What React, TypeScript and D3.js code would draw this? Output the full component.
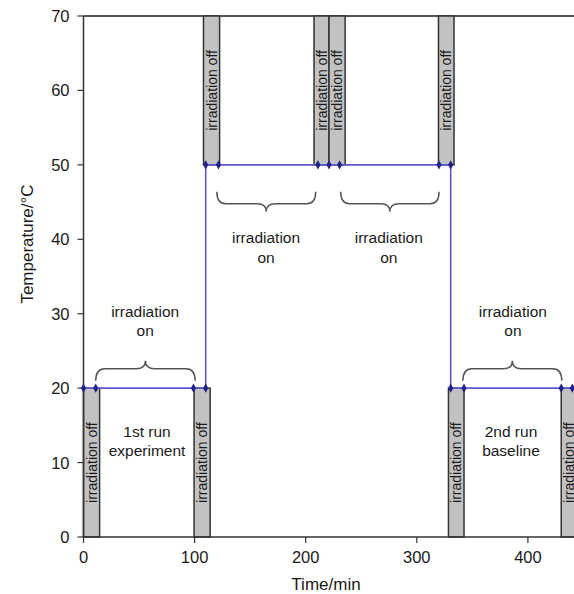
import React from 'react';
import * as d3 from 'd3';

// temperature profile (time in min, temperature in °C)
const times = [0, 11, 99, 110, 110, 121.5, 211, 221, 230.5, 320, 330.5, 330.5, 342.5, 430, 440];
const temps = [20, 20, 20, 20, 50, 50, 50, 50, 50, 50, 50, 20, 20, 20, 20];

// "irradiation off" periods, [start, end] in min
const offLow = [[0, 14.5], [99.5, 114], [328.5, 342.5], [430, 444.5]];
const offHigh = [[108, 122.5], [207.5, 221], [221, 235.5], [319.5, 333.5]];

const xTicks = [0, 100, 200, 300, 400];
const yTicks = [0, 10, 20, 30, 40, 50, 60, 70];

// braces: [from, to, level (°C), direction (-1 tip up, 1 tip down)]
const braces = [[11, 100.5, 21, -1], [120, 209, 46.4, 1], [231.5, 320, 46.4, 1], [341.5, 430.5, 21, -1]];

// text notes: [time, temperature of first line, lines]
const notes: [number, number, string[]][] = [
  [55.5, 29.6, ['irradiation', 'on']],
  [164.3, 39.5, ['irradiation', 'on']],
  [274.8, 39.5, ['irradiation', 'on']],
  [386.5, 29.6, ['irradiation', 'on']],
  [57.2, 13.5, ['1st run', 'experiment']],
  [384.8, 13.5, ['2nd run', 'baseline']],
];

const W = 574, H = 594;
const x = d3.scaleLinear().domain([0, 441.5]).range([83.5, 574]);
const y = d3.scaleLinear().domain([0, 70]).range([537, 16]);
const font = 'Liberation Sans, Arial, sans-serif';
const ink = '#1a1a1a';

function bracePath(x1: number, x2: number, yy: number, d: number) {
  const h = 20, r = 9;
  const xm = (x1 + x2) / 2;
  const ym = yy + d * h * 0.6;
  const yt = yy + d * h;
  return `M${x1},${yy} Q${x1},${ym} ${x1 + r},${ym} L${xm - r},${ym} Q${xm},${ym} ${xm},${yt}` +
    ` Q${xm},${ym} ${xm + r},${ym} L${x2 - r},${ym} Q${x2},${ym} ${x2},${yy}`;
}

export default function App() {
  const pts = times.map((t, i) => [t, temps[i]] as [number, number]);
  const line = d3.line<[number, number]>().x(d => x(d[0])).y(d => y(d[1]));
  const diamond = d3.symbol().type(d3.symbolDiamond).size(24)();

  const bar = (b: number[], lo: number, hi: number, k: string) => {
    const x0 = x(b[0]), x1 = x(b[1]);
    const cx = (x0 + x1) / 2, cy = (y(lo) + y(hi)) / 2;
    return (
      <g key={k}>
        <rect x={x0} y={y(hi)} width={x1 - x0} height={y(lo) - y(hi)} fill="#c2c2c2" stroke="#333" strokeWidth={1.5} />
        <text transform={`translate(${cx + 5},${cy}) rotate(-90)`} textAnchor="middle" fontSize={14} fill={ink}>irradiation off</text>
      </g>
    );
  };

  return (
    <svg width={W} height={H} style={{ position: 'absolute', left: 0, top: 0, background: '#fff' }} fontFamily={font}>
      {/* top frame line */}
      <line x1={x(0)} x2={W} y1={y(70)} y2={y(70)} stroke="#555" strokeWidth={2} />

      {offHigh.map((b, i) => bar(b, 50, 70, 'h' + i))}
      {offLow.map((b, i) => bar(b, 0, 20, 'l' + i))}

      {/* axes */}
      <line x1={x(0)} x2={x(0)} y1={y(0)} y2={y(70)} stroke="#333" strokeWidth={1.5} />
      <line x1={x(0)} x2={W} y1={y(0)} y2={y(0)} stroke="#333" strokeWidth={1.5} />
      {yTicks.map(t => (
        <g key={'y' + t}>
          <line x1={x(0) - 6} x2={x(0)} y1={y(t)} y2={y(t)} stroke="#333" strokeWidth={1.2} />
          <text x={x(0) - 14} y={y(t) + 6} textAnchor="end" fontSize={16.5} fill={ink}>{t}</text>
        </g>
      ))}
      {xTicks.map(t => (
        <g key={'x' + t}>
          <line x1={x(t)} x2={x(t)} y1={y(0)} y2={y(0) + 6} stroke="#333" strokeWidth={1.2} />
          <text x={x(t)} y={562.5} textAnchor="middle" fontSize={16.5} fill={ink}>{t}</text>
        </g>
      ))}
      <text transform="translate(33,244) rotate(-90)" textAnchor="middle" fontSize={17} fill={ink}>Temperature/°C</text>
      <text x={326} y={590} textAnchor="middle" fontSize={17} fill={ink}>Time/min</text>

      {/* temperature profile */}
      <path d={line(pts) || ''} fill="none" stroke="#5f58cf" strokeWidth={1.6} />
      {pts.map((p, i) => (
        <path key={'m' + i} d={diamond || ''} transform={`translate(${x(p[0])},${y(p[1])})`} fill="#22228a" />
      ))}

      {/* braces */}
      {braces.map((b, i) => (
        <path key={'b' + i} d={bracePath(x(b[0]), x(b[1]), y(b[2]), b[3])} fill="none" stroke="#555" strokeWidth={1.5} />
      ))}

      {/* notes */}
      {notes.map((n, i) => (
        <text key={'n' + i} x={x(n[0])} y={y(n[1])} textAnchor="middle" fontSize={15.5} fill={ink}>
          {n[2].map((s, j) => <tspan key={j} x={x(n[0])} dy={j === 0 ? 0 : 19.5}>{s}</tspan>)}
        </text>
      ))}
    </svg>
  );
}
